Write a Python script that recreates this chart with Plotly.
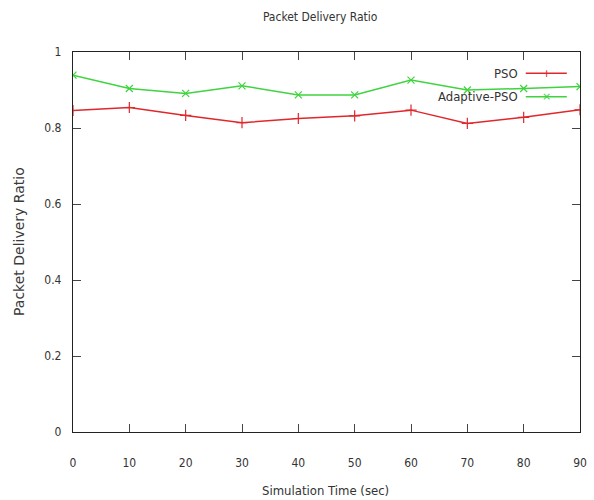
import plotly.graph_objects as go

time_sec = [0, 10, 20, 30, 40, 50, 60, 70, 80, 90]
pso = [0.846, 0.854, 0.833, 0.814, 0.825, 0.832, 0.847, 0.812, 0.828, 0.848]
adaptive_pso = [0.939, 0.904, 0.891, 0.911, 0.887, 0.887, 0.926, 0.900, 0.904, 0.909]
x_ticks = [0, 10, 20, 30, 40, 50, 60, 70, 80, 90]
y_ticks = [0, 0.2, 0.4, 0.6, 0.8, 1]
y_tick_text = ["0", "0.2", "0.4", "0.6", "0.8", "1"]

RED = "#e0282c"
GREEN = "#3fd43f"
NARROW = "DejaVu Sans Condensed, Liberation Sans Narrow, sans-serif"
TXT = "#333333"

fig = go.Figure()
fig.add_trace(go.Scatter(x=time_sec, y=pso, mode="lines+markers", name="PSO",
                         line=dict(color=RED, width=1.5),
                         marker=dict(symbol="cross-thin", size=8, line=dict(color=RED, width=1.2))))
fig.add_trace(go.Scatter(x=time_sec, y=adaptive_pso, mode="lines+markers", name="Adaptive-PSO",
                         line=dict(color=GREEN, width=1.5),
                         marker=dict(symbol="x-thin", size=7, line=dict(color=GREEN, width=1.2))))

axis_common = dict(showline=True, linecolor="#222", linewidth=1.3, mirror="allticks",
                   ticks="inside", ticklen=8, tickcolor="#444", tickwidth=1, showgrid=False,
                   zeroline=False, automargin=False,
                   tickfont=dict(family=NARROW, size=12, color=TXT))

fig.update_xaxes(range=[0, 90], tickvals=x_ticks, ticklabelstandoff=19, **axis_common)
fig.update_yaxes(range=[0, 1], tickvals=y_ticks, ticktext=y_tick_text, ticklabelstandoff=8, **axis_common)

# axis titles
fig.add_annotation(xref="paper", yref="paper", x=0.499, y=-0.153, xanchor="center", yanchor="middle",
                   text="Simulation Time (sec)", showarrow=False,
                   font=dict(family=NARROW, size=13, color=TXT))
fig.add_annotation(xref="paper", yref="paper", x=-0.1065, y=0.5, xanchor="center", yanchor="middle",
                   text="Packet Delivery Ratio", showarrow=False, textangle=-90,
                   font=dict(family="DejaVu Sans", size=14, color="#3a3a3a"))

# legend drawn inside the top-right corner (gnuplot style: text then sample)
legend_items = [("PSO", RED, "+", 0.944), ("Adaptive-PSO", GREEN, "×", 0.882)]
for label, color, sym, yy in legend_items:
    fig.add_annotation(xref="paper", yref="paper", x=0.882, y=yy, xanchor="right", yanchor="middle",
                       text=label, showarrow=False, font=dict(family=NARROW, size=13, color=TXT))
    fig.add_shape(type="line", xref="paper", yref="paper", x0=0.893, x1=0.974, y0=yy, y1=yy,
                  line=dict(color=color, width=1.5))
    fig.add_annotation(xref="paper", yref="paper", x=0.933, y=yy, xanchor="center", yanchor="middle",
                       text=sym, showarrow=False, font=dict(family="DejaVu Sans", size=11, color=color))

fig.update_layout(
    width=594, height=500,
    margin=dict(l=73, r=14, t=52, b=68),
    paper_bgcolor="white", plot_bgcolor="white",
    showlegend=False,
    title=dict(text="Packet Delivery Ratio", xref="container", x=0.539, xanchor="center",
               yref="container", y=0.966, yanchor="middle",
               font=dict(family=NARROW, size=12, color=TXT)),
)

fig.write_html("out.html", config={"displayModeBar": False},
               post_script="document.body.style.margin='0';document.body.style.overflow='hidden';")
